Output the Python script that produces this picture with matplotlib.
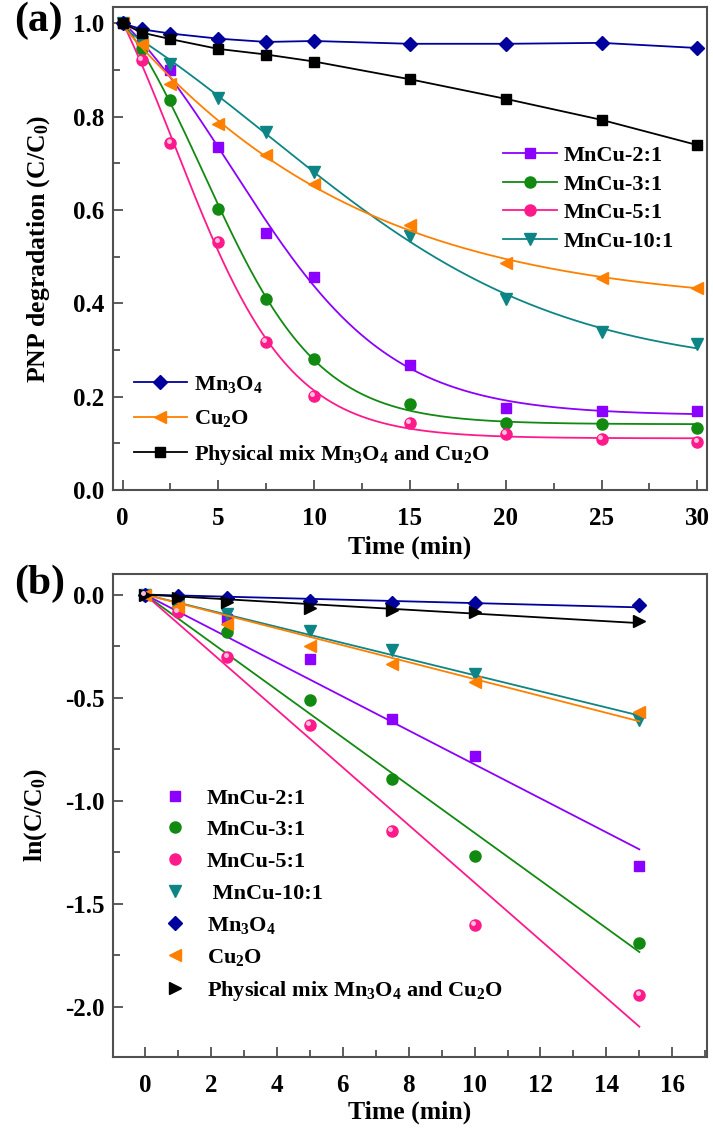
import numpy as np
import matplotlib
matplotlib.use('Agg')
import matplotlib.pyplot as plt
from matplotlib.ticker import MultipleLocator
from matplotlib.transforms import offset_copy

plt.rcParams['font.family'] = ['Liberation Serif', 'DejaVu Serif']
plt.rcParams['font.weight'] = 'bold'
plt.rcParams['mathtext.fontset'] = 'custom'
plt.rcParams['mathtext.rm'] = 'Liberation Serif:bold'
plt.rcParams['mathtext.default'] = 'rm'
plt.rcParams['axes.unicode_minus'] = False

# ---- panel (a): C/C0 vs time ----
t_a = [0, 1, 2.5, 5, 7.5, 10, 15, 20, 25, 30]
mncu21_a = [1.0, 0.955, 0.900, 0.734, 0.550, 0.456, 0.268, 0.176, 0.170, 0.169]
mncu31_a = [1.0, 0.944, 0.835, 0.602, 0.410, 0.280, 0.184, 0.143, 0.142, 0.133]
mncu51_a = [1.0, 0.921, 0.743, 0.532, 0.317, 0.201, 0.143, 0.120, 0.110, 0.103]
mncu101_a = [1.0, 0.960, 0.912, 0.839, 0.766, 0.681, 0.544, 0.409, 0.338, 0.313]
mn3o4_a = [1.0, 0.987, 0.978, 0.967, 0.960, 0.962, 0.956, 0.956, 0.958, 0.947]
cu2o_a = [1.0, 0.955, 0.869, 0.784, 0.717, 0.655, 0.567, 0.486, 0.455, 0.433]
mix_a = [1.0, 0.980, 0.966, 0.945, 0.933, 0.918, 0.880, 0.838, 0.793, 0.739]

# ---- panel (b): ln(C/C0) vs time ----
t_b = [0, 1, 2.5, 5, 7.5, 10, 15]
mncu21_b = [0, -0.060, -0.117, -0.314, -0.605, -0.785, -1.319]
mncu31_b = [0, -0.060, -0.184, -0.510, -0.893, -1.270, -1.691]
mncu51_b = [0, -0.084, -0.303, -0.631, -1.147, -1.605, -1.945]
mncu101_b = [0, -0.052, -0.092, -0.178, -0.270, -0.384, -0.610]
mn3o4_b = [0, -0.008, -0.017, -0.033, -0.039, -0.041, -0.053]
cu2o_b = [0, -0.060, -0.141, -0.249, -0.335, -0.424, -0.570]
mix_b = [0, -0.017, -0.036, -0.065, -0.076, -0.087, -0.130]

c_21, c_31, c_51, c_101 = '#8B00FF', '#128A12', '#FF1A8C', '#0E8585'
c_mn, c_cu, c_mix = '#00009C', '#FF8000', 'black'


def boltzmann_fit(x, y, xn):
    # least squares Boltzmann curve, grid over x0/dx, linear in A1/A2
    x = np.asarray(x, float); y = np.asarray(y, float)
    best = None
    for x0 in np.linspace(-15, 20, 141):
        for dx in np.linspace(0.5, 20, 157):
            s = 1 / (1 + np.exp((x - x0) / dx))
            A = np.column_stack([s, 1 - s])
            coef, *_ = np.linalg.lstsq(A, y, rcond=None)
            err = np.sum((A @ coef - y) ** 2)
            if best is None or err < best[0]:
                best = (err, x0, dx, coef)
    _, x0, dx, (a1, a2) = best
    s = 1 / (1 + np.exp((xn - x0) / dx))
    return a1 * s + a2 * (1 - s)


def style(ax):
    for sp in ax.spines.values():
        sp.set_color('#505050'); sp.set_linewidth(1.5)
    ax.tick_params(which='both', direction='in', color='#505050', width=1.3,
                   labelsize=18, top=False, right=False)
    ax.tick_params(which='major', length=7)
    ax.tick_params(which='minor', length=5)
    ax.tick_params(axis='y', pad=6)
    ax.tick_params(axis='x', pad=12)


fig = plt.figure(figsize=(7.13, 11.35), dpi=100)
lw = 1.3

# ---------------- (a) ----------------
ax = fig.add_axes([0.1585, 0.5683, 0.833, 0.4256])
tt = np.linspace(0, 30, 400)
series_a = [
    (mncu21_a, c_21, 's', 7.5, 'MnCu-2:1'),
    (mncu31_a, c_31, 'o', 8, 'MnCu-3:1'),
    (mncu51_a, c_51, 'o', 8, 'MnCu-5:1'),
    (mncu101_a, c_101, 'v', 9, 'MnCu-10:1'),
]
h1 = []
for y, c, m, ms, lab in series_a:
    ax.plot(tt, boltzmann_fit(t_a, y, tt), color=c, lw=lw)
    ax.plot(t_a, y, m, color=c, ms=ms, mec=c)
    h1.append(ax.plot([], [], color=c, lw=lw, marker=m, ms=ms, label=lab)[0])
# highlight on the pink balls
hl = offset_copy(ax.transData, fig=fig, x=-1.3, y=1.3, units='points')
ax.plot(t_a, mncu51_a, 'o', color='#FFC0DC', ms=2.5, transform=hl)

ax.plot(tt, boltzmann_fit(t_a, cu2o_a, tt), color=c_cu, lw=lw)
ax.plot(t_a, cu2o_a, '<', color=c_cu, ms=9)
ax.plot(t_a, mn3o4_a, color=c_mn, lw=lw, marker='D', ms=7.5)
ax.plot(t_a, mix_a, color=c_mix, lw=lw, marker='s', ms=7.5)
h2 = [
    ax.plot([], [], color=c_mn, lw=lw, marker='D', ms=7.5, label='Mn$_3$O$_4$')[0],
    ax.plot([], [], color=c_cu, lw=lw, marker='<', ms=9, label='Cu$_2$O')[0],
    ax.plot([], [], color=c_mix, lw=lw, marker='s', ms=7.5,
            label='Physical mix Mn$_3$O$_4$ and Cu$_2$O')[0],
]

ax.set_xlim(-0.5, 30.5)
ax.set_ylim(0, 1.035)
ax.xaxis.set_major_locator(MultipleLocator(5))
ax.xaxis.set_minor_locator(MultipleLocator(2.5))
ax.yaxis.set_major_locator(MultipleLocator(0.2))
ax.yaxis.set_minor_locator(MultipleLocator(0.1))
ax.set_xlabel('Time (min)', fontsize=18.5, fontweight='bold', labelpad=4)
ax.set_ylabel('PNP degradation (C/C$_0$)', fontsize=18.5, fontweight='bold', labelpad=15)
style(ax)
leg1 = ax.legend(handles=h1, loc='upper left', bbox_to_anchor=(0.657, 0.713),
                 frameon=False, fontsize=16, handlelength=2.4, handletextpad=0.3,
                 labelspacing=0.36, borderpad=0, borderaxespad=0)
ax.add_artist(leg1)
ax.legend(handles=h2, loc='upper left', bbox_to_anchor=(0.035, 0.24),
          frameon=False, fontsize=16, handlelength=2.4, handletextpad=0.3,
          labelspacing=0.6, borderpad=0, borderaxespad=0)
fig.text(0.02, 0.999, '(a)', fontsize=30, fontweight='bold', va='top', ha='left')

# ---------------- (b) ----------------
bx = fig.add_axes([0.1585, 0.0687, 0.833, 0.4256])
series_b = [
    (mncu21_b, c_21, 's', 7.5, 'MnCu-2:1'),
    (mncu31_b, c_31, 'o', 8, 'MnCu-3:1'),
    (mncu51_b, c_51, 'o', 8, 'MnCu-5:1'),
    (mncu101_b, c_101, 'v', 9, ' MnCu-10:1'),
    (mn3o4_b, c_mn, 'D', 7.5, 'Mn$_3$O$_4$'),
    (cu2o_b, c_cu, '<', 9, 'Cu$_2$O'),
    (mix_b, c_mix, '>', 9, 'Physical mix Mn$_3$O$_4$ and Cu$_2$O'),
]
xb = np.asarray(t_b, float)
for y, c, m, ms, lab in series_b:
    yb = np.asarray(y, float)
    k = np.sum(xb * yb) / np.sum(xb * xb)
    bx.plot([0, 15], [0, 15 * k], color=c, lw=lw)
    bx.plot(t_b, y, m, color=c, ms=ms, label=lab)
hl2 = offset_copy(bx.transData, fig=fig, x=-1.3, y=1.3, units='points')
bx.plot(t_b, mncu51_b, 'o', color='#FFC0DC', ms=2.5, transform=hl2)

bx.set_xlim(-0.97, 17.05)
bx.set_ylim(-2.245, 0.1)
bx.xaxis.set_major_locator(MultipleLocator(2))
bx.xaxis.set_minor_locator(MultipleLocator(1))
bx.yaxis.set_major_locator(MultipleLocator(0.5))
bx.yaxis.set_minor_locator(MultipleLocator(0.25))
bx.set_xlabel('Time (min)', fontsize=18.5, fontweight='bold', labelpad=3)
bx.set_ylabel('ln(C/C$_0$)', fontsize=18.5, fontweight='bold', labelpad=12)
style(bx)
bx.legend(loc='upper left', bbox_to_anchor=(0.085, 0.557), frameon=False,
          fontsize=16, handlelength=1.0, handletextpad=0.95, labelspacing=0.5,
          borderpad=0, borderaxespad=0)
fig.text(0.02, 0.503, '(b)', fontsize=30, fontweight='bold', va='top', ha='left')

fig.savefig('out.png', dpi=100)
